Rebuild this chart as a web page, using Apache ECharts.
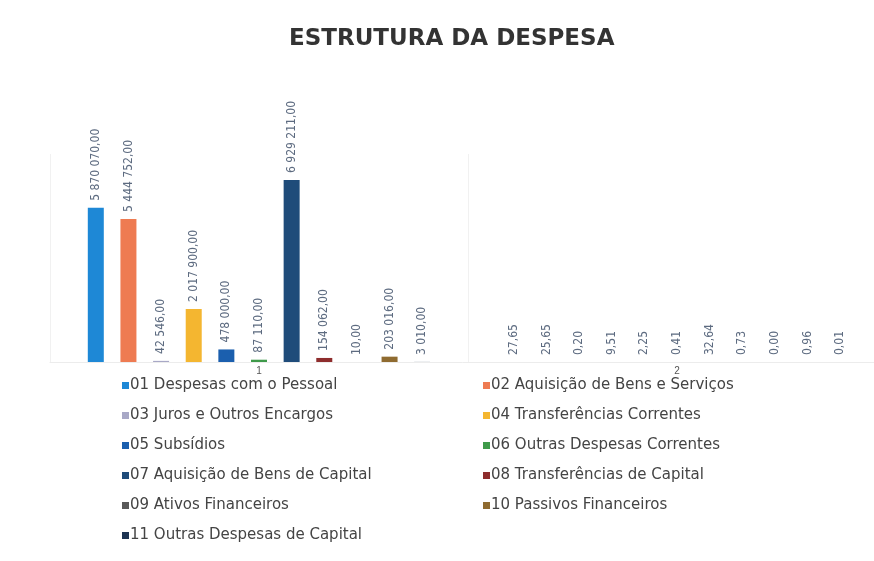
<!DOCTYPE html>
<html>
<head>
<meta charset="UTF-8">
<title>Estrutura da Despesa</title>
<script src="https://cdn.jsdelivr.net/npm/echarts@6/dist/echarts.min.js"></script>
<style>
  html, body { margin: 0; padding: 0; background: #fff; }
  #main { width: 874px; height: 561px; }
</style>
</head>
<body>
<div id="main"></div>
<script>
// categorias (grupo 1 = valores, grupo 2 = percentagens)
var categorias = ['1', '2'];
var rubricas = [
  '01 Despesas com o Pessoal',
  '02 Aquisição de Bens e Serviços',
  '03 Juros e Outros Encargos',
  '04 Transferências Correntes',
  '05 Subsídios',
  '06 Outras Despesas Correntes',
  '07 Aquisição de Bens de Capital',
  '08 Transferências de Capital',
  '09 Ativos Financeiros',
  '10 Passivos Financeiros',
  '11 Outras Despesas de Capital'
];
var valores = [5870070, 5444752, 42546, 2017900, 478000, 87110, 6929211, 154062, 10, 203016, 3010];
var percentagens = [27.65, 25.65, 0.20, 9.51, 2.25, 0.41, 32.64, 0.73, 0.00, 0.96, 0.01];
var cores = ['#1e88d6', '#ee7b52', '#a8a8c6', '#f4b630', '#1b5fae', '#3f9a4a',
             '#1f4c7a', '#8e2d2d', '#595959', '#8f6b30', '#1d3452'];

function formatar(v) {
  var partes = v.toFixed(2).split('.');
  var inteiro = partes[0].replace(/\B(?=(\d{3})+(?!\d))/g, ' ');
  return inteiro + ',' + partes[1];
}

var myChart = echarts.init(document.getElementById('main'));

var series = rubricas.map(function (nome, i) {
  return {
    name: nome,
    type: 'bar',
    barWidth: 16,
    barGap: '104%',
    itemStyle: { color: cores[i] },
    label: {
      show: true,
      position: 'top',
      rotate: 90,
      align: 'left',
      verticalAlign: 'middle',
      distance: 7,
      color: '#5d6b80',
      fontFamily: 'DejaVu Sans Condensed',
      fontSize: 12,
      formatter: function (p) { return formatar(p.value); }
    },
    data: [valores[i], percentagens[i]]
  };
});

var esquerda = [], direita = [];
rubricas.forEach(function (n, i) { (i % 2 === 0 ? esquerda : direita).push(n); });

var legendaBase = {
  orient: 'vertical',
  top: 372,
  itemWidth: 7,
  itemHeight: 7,
  itemGap: 13,
  icon: 'rect',
  textStyle: { color: '#444', fontSize: 15, fontFamily: 'DejaVu Sans', lineHeight: 17, padding: [0, 0, 0, -4] }
};

var option = {
  backgroundColor: '#fff',
  animation: false,
  title: {
    text: 'ESTRUTURA DA DESPESA',
    left: 284,
    top: 23,
    textStyle: { fontSize: 23, fontWeight: 'bold', color: '#333', fontFamily: 'DejaVu Sans' }
  },
  legend: [
    Object.assign({}, legendaBase, { left: 117, data: esquerda }),
    Object.assign({}, legendaBase, { left: 478, data: direita })
  ],
  grid: { left: 50, width: 836, top: 154, height: 208, outerBoundsMode: 'none', containLabel: false },
  xAxis: {
    type: 'category',
    data: categorias,
    axisLine: { lineStyle: { color: '#ececec' } },
    axisTick: { show: false },
    splitLine: { show: true, lineStyle: { color: '#f1f1f1' } },
    axisLabel: { color: '#555', fontSize: 10, margin: 4 }
  },
  yAxis: {
    type: 'value',
    min: 0,
    max: 7920000,
    show: false
  },
  series: series
};

myChart.setOption(option);
</script>
</body>
</html>
